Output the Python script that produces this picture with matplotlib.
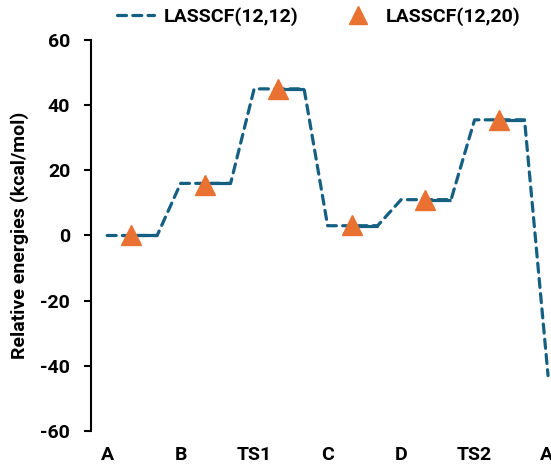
import matplotlib
matplotlib.use("Agg")
import matplotlib.pyplot as plt
from matplotlib.lines import Line2D

# --- datos ---
categories = ["A", "B", "TS1", "C", "D", "TS2", "A'"]
las_12_12 = [0, 16, 45, 3, 11, 35.5]     # niveles de la serie punteada
las_12_12_end = -43                      # ultimo punto (A'), cortado en el borde
las_12_20 = [0, 15.5, 45, 3.2, 10.8, 35.5]
yticks = [-60, -40, -20, 0, 20, 40, 60]

BLUE = "#156082"
ORANGE = "#E97132"
LEVEL_W = 0.68   # ancho de cada nivel horizontal
TRI_OFF = 0.33   # posicion del triangulo dentro del nivel
FS = 14

plt.rcParams["font.family"] = ["Roboto", "DejaVu Sans"]
plt.rcParams["font.weight"] = "bold"
plt.rcParams["lines.scale_dashes"] = False

fig = plt.figure(figsize=(5.51, 4.69), dpi=100)
ax = fig.add_axes([91 / 551, 38 / 469, 460 / 551, 391 / 469])

# perfil de energia: cada nivel de i a i+LEVEL_W, luego conectores
xs, ys = [], []
for i, v in enumerate(las_12_12):
    xs += [i, i + LEVEL_W]
    ys += [v, v]
xs.append(len(las_12_12))
ys.append(las_12_12_end)
ax.plot(xs, ys, color=BLUE, lw=2.3, dashes=(6.5, 4.5),
        dash_capstyle="round", solid_capstyle="round", clip_on=False)

# tramo derecho de cada nivel se ve continuo
for i, v in enumerate(las_12_12):
    ax.plot([i + TRI_OFF, i + LEVEL_W], [v, v], color=BLUE, lw=2.3,
            solid_capstyle="butt")

tri_x = [i + TRI_OFF for i in range(len(las_12_20))]
ax.plot(tri_x, las_12_20, linestyle="none", marker="^", ms=14,
        color=ORANGE, zorder=5)

ax.set_xlim(-0.22, 6.04)
ax.set_ylim(-60, 60)
ax.set_yticks(yticks)
ax.set_yticklabels([str(t) for t in yticks], fontsize=FS, fontweight="bold")
ax.set_xticks(range(len(categories)))
ax.set_xticklabels(categories, fontsize=FS, fontweight="bold")
ax.tick_params(axis="x", length=0, pad=11)
ax.tick_params(axis="y", length=5, width=1.5, direction="out", pad=10)

for s in ["top", "right", "bottom"]:
    ax.spines[s].set_visible(False)
ax.spines["left"].set_linewidth(1.5)

ax.set_ylabel("Relative energies (kcal/mol)", fontsize=FS, fontweight="bold",
              labelpad=8)

handles = [
    Line2D([], [], color=BLUE, lw=2.3, dashes=(6.5, 4.5), dash_capstyle="round"),
    Line2D([], [], linestyle="none", marker="^", ms=13, color=ORANGE),
]
fig.legend(handles, ["LASSCF(12,12)", "LASSCF(12,20)"], loc="center",
           bbox_to_anchor=(319 / 551, 1 - 17 / 469), ncol=2, frameon=False,
           prop={"size": FS, "weight": "bold"}, handlelength=1.9,
           columnspacing=2.1, handletextpad=0.5)

fig.savefig("out.png", dpi=100)
